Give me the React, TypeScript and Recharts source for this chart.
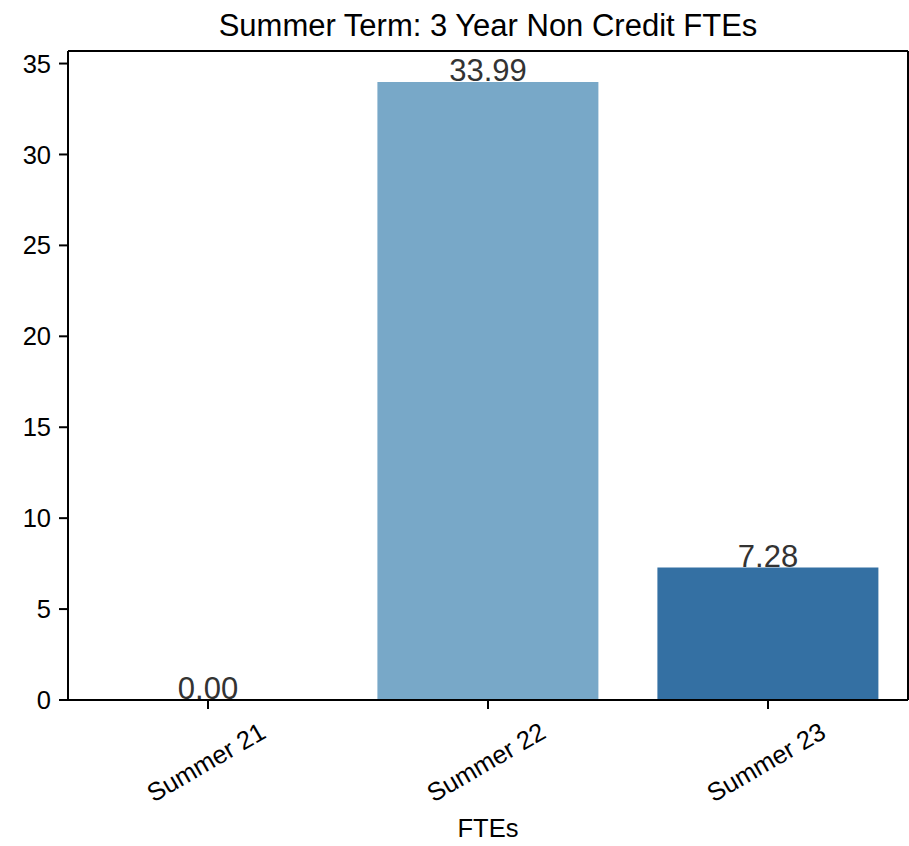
import { ComposedChart, Bar, Line, XAxis, YAxis, Cell, LabelList } from "recharts";

const categories = ["Summer 21", "Summer 22", "Summer 23"];
const fteValues = [0, 33.99, 7.28];
const barColors = ["#d0e1f0", "#78a8c8", "#3470a3"];
const yTicks = [0, 5, 10, 15, 20, 25, 30, 35];
const yMax = 35.69;

const chartData = categories.map((category, i) => ({ category, value: fteValues[i] }));

const FONT = "'Liberation Sans', Arial, Helvetica, sans-serif";

function RotatedTick({ x, y, payload }: { x?: number; y?: number; payload?: { value: string } }) {
  const cx = (x ?? 0) - 2;
  const cy = (y ?? 0) + 51;
  return (
    <text
      x={cx}
      y={cy}
      transform={`rotate(-30, ${cx}, ${cy})`}
      textAnchor="middle"
      dominantBaseline="central"
      fontSize={25.5}
      fontFamily={FONT}
      fill="#000"
    >
      {payload?.value}
    </text>
  );
}

// etichetta del valore appoggiata sopra la barra (anche per lo 0)
function BarValueLabel(props: any) {
  const { x, y, value } = props;
  return (
    <text x={Number(x)} y={Number(y) - 1} textAnchor="middle" fontSize={31} fontFamily={FONT} fill="#333333">
      {Number(value).toFixed(2)}
    </text>
  );
}

export default function App() {
  return (
    <div style={{ position: "absolute", left: 0, top: 0, width: 909, height: 846, background: "#fff" }}>
      <div
        style={{
          position: "absolute",
          left: 68,
          width: 840,
          top: 10,
          textAlign: "center",
          fontFamily: FONT,
          fontSize: 31,
          lineHeight: "31px",
          color: "#000",
        }}
      >
        Summer Term: 3 Year Non Credit FTEs
      </div>
      <ComposedChart
        width={909}
        height={846}
        data={chartData}
        margin={{ top: 50, right: 0, left: 0, bottom: 0 }}
        barCategoryGap="10.5%"
      >
        <XAxis
          dataKey="category"
          height={146}
          stroke="#000"
          strokeWidth={2}
          tickSize={9}
          tick={<RotatedTick />}
          interval={0}
          label={{ value: "FTEs", position: "insideBottom", offset: 9, fontSize: 25.5, fontFamily: FONT, fill: "#000" }}
        />
        <XAxis xAxisId="top" dataKey="category" orientation="top" height={1} tick={false} tickLine={false} stroke="#000" strokeWidth={2} />
        <YAxis
          width={68}
          domain={[0, yMax]}
          ticks={yTicks}
          stroke="#000"
          strokeWidth={2}
          tickSize={9}
          tickMargin={8}
          tick={{ fill: "#000", fontSize: 25.5, fontFamily: FONT }}
        />
        <YAxis yAxisId="right" orientation="right" width={1} domain={[0, yMax]} tick={false} tickLine={false} stroke="#000" strokeWidth={2} />
        <Bar dataKey="value" isAnimationActive={false}>
          {chartData.map((_e, i) => (
            <Cell key={`cell-${i}`} fill={barColors[i]} />
          ))}
        </Bar>
        <Line dataKey="value" stroke="none" dot={false} activeDot={false} isAnimationActive={false}>
          <LabelList dataKey="value" content={<BarValueLabel />} />
        </Line>
      </ComposedChart>
    </div>
  );
}
